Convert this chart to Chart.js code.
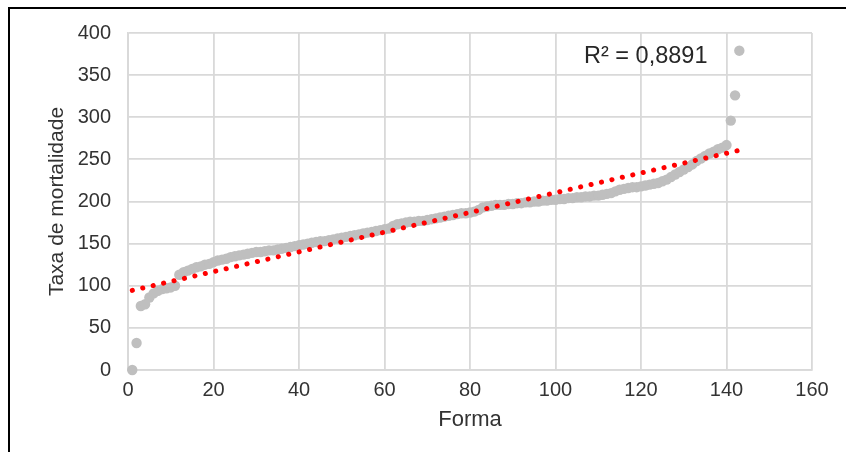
<!DOCTYPE html>
<html>
<head>
<meta charset="utf-8">
<script src="https://cdn.jsdelivr.net/npm/chart.js@4.4.1/dist/chart.umd.min.js"></script>
<style>
  html, body { margin: 0; padding: 0; background: #ffffff; }
  #wrap { position: relative; width: 846px; height: 452px; }
</style>
</head>
<body>
<div id="wrap"><canvas id="c" width="846" height="452"></canvas></div>
<script>
// Mortality rate per form, sorted ascending (form index 1..143)
const forma = Array.from({ length: 143 }, (_, i) => i + 1);
const taxaMortalidade = [
  0, 32, 76, 78, 86, 91, 94, 96, 97, 98,
  100, 113, 116, 118, 120, 122, 123, 125, 126, 128,
  130, 131, 132, 134, 135, 136, 137, 138, 139, 140,
  140, 141, 142, 142, 143, 144, 145, 146, 147, 148,
  149, 150, 151, 152, 153, 153, 154, 155, 156, 157,
  158, 159, 160, 161, 162, 163, 164, 165, 166, 167,
  168, 171, 173, 174, 175, 176, 176, 177, 177, 178,
  179, 180, 181, 182, 183, 184, 185, 186, 186, 187,
  188, 190, 193, 194, 195, 196, 196, 196, 197, 197,
  198, 198, 199, 199, 200, 200, 201, 201, 202, 202,
  203, 203, 204, 204, 205, 205, 206, 206, 207, 207,
  208, 209, 210, 212, 214, 215, 216, 217, 217, 218,
  219, 220, 221, 222, 224, 226, 229, 232, 235, 238,
  241, 244, 248, 251, 254, 257, 259, 262, 264, 267,
  296, 326, 379
];
const xTicks = [0, 20, 40, 60, 80, 100, 120, 140, 160];
const yTicks = [0, 50, 100, 150, 200, 250, 300, 350, 400];
const r2Label = 'R² = 0,8891';

// Linear least-squares trendline over the data
const n = forma.length;
const mx = forma.reduce((a, b) => a + b, 0) / n;
const my = taxaMortalidade.reduce((a, b) => a + b, 0) / n;
let sxy = 0, sxx = 0;
for (let i = 0; i < n; i++) {
  sxy += (forma[i] - mx) * (taxaMortalidade[i] - my);
  sxx += (forma[i] - mx) * (forma[i] - mx);
}
const slope = sxy / sxx;
const intercept = my - slope * mx;
const xFirst = forma[0], xLast = forma[n - 1];
const trend = [
  { x: xFirst, y: intercept + slope * xFirst },
  { x: xLast, y: intercept + slope * xLast }
];

const pts = forma.map((x, i) => ({ x, y: taxaMortalidade[i] }));

const FONT = '"Liberation Sans", Arial, sans-serif';
const GRID = '#D9D9D9';
const TXT = '#333333';

const extras = {
  id: 'extras',
  afterDraw(chart) {
    const ctx = chart.ctx;
    ctx.save();
    // R² annotation
    ctx.font = '23.5px ' + FONT;
    ctx.fillStyle = '#262626';
    ctx.textAlign = 'left';
    ctx.textBaseline = 'middle';
    ctx.fillText(r2Label, 584, 57);
    // frame
    ctx.strokeStyle = '#000000';
    ctx.lineWidth = 2;
    ctx.beginPath();
    ctx.moveTo(9, 452);
    ctx.lineTo(9, 8);
    ctx.lineTo(846, 8);
    ctx.stroke();
    ctx.restore();
  }
};

new Chart(document.getElementById('c'), {
  type: 'scatter',
  data: {
    datasets: [
      {
        type: 'line',
        label: 'Linear',
        data: trend,
        borderColor: '#FF0000',
        borderWidth: 5,
        borderDash: [0.1, 10.6],
        borderCapStyle: 'round',
        pointRadius: 0,
        fill: false,
        order: 0
      },
      {
        label: 'Taxa de mortalidade',
        data: pts,
        backgroundColor: '#BFBFBF',
        borderColor: '#BFBFBF',
        borderWidth: 0,
        pointRadius: 5.2,
        clip: false,
        order: 1
      }
    ]
  },
  options: {
    responsive: false,
    animation: false,
    layout: { padding: { top: 33, right: 34, bottom: 0, left: 0 } },
    plugins: {
      legend: { display: false },
      tooltip: { enabled: false }
    },
    scales: {
      x: {
        type: 'linear',
        min: 0, max: 160,
        afterBuildTicks(s) { s.ticks = xTicks.map(v => ({ value: v })); },
        afterFit(s) { s.height = 82; },
        grid: { color: GRID, lineWidth: 1.8, drawTicks: false },
        border: { color: GRID, width: 1.8 },
        ticks: { color: TXT, font: { family: FONT, size: 20 }, padding: 8 },
        title: {
          display: true, text: 'Forma', color: TXT,
          font: { family: FONT, size: 22 },
          padding: { top: 0, bottom: 19 }
        }
      },
      y: {
        type: 'linear',
        min: 0, max: 400,
        afterBuildTicks(s) { s.ticks = yTicks.map(v => ({ value: v })); },
        afterFit(s) { s.width = 128; },
        grid: { color: GRID, lineWidth: 1.8, drawTicks: false },
        border: { color: GRID, width: 1.8 },
        ticks: { color: TXT, font: { family: FONT, size: 20 }, padding: 17 },
        title: {
          display: true, text: 'Taxa de mortalidade', color: TXT,
          font: { family: FONT, size: 21 },
          padding: { top: 45, bottom: 0 }
        }
      }
    }
  },
  plugins: [extras]
});
</script>
</body>
</html>
